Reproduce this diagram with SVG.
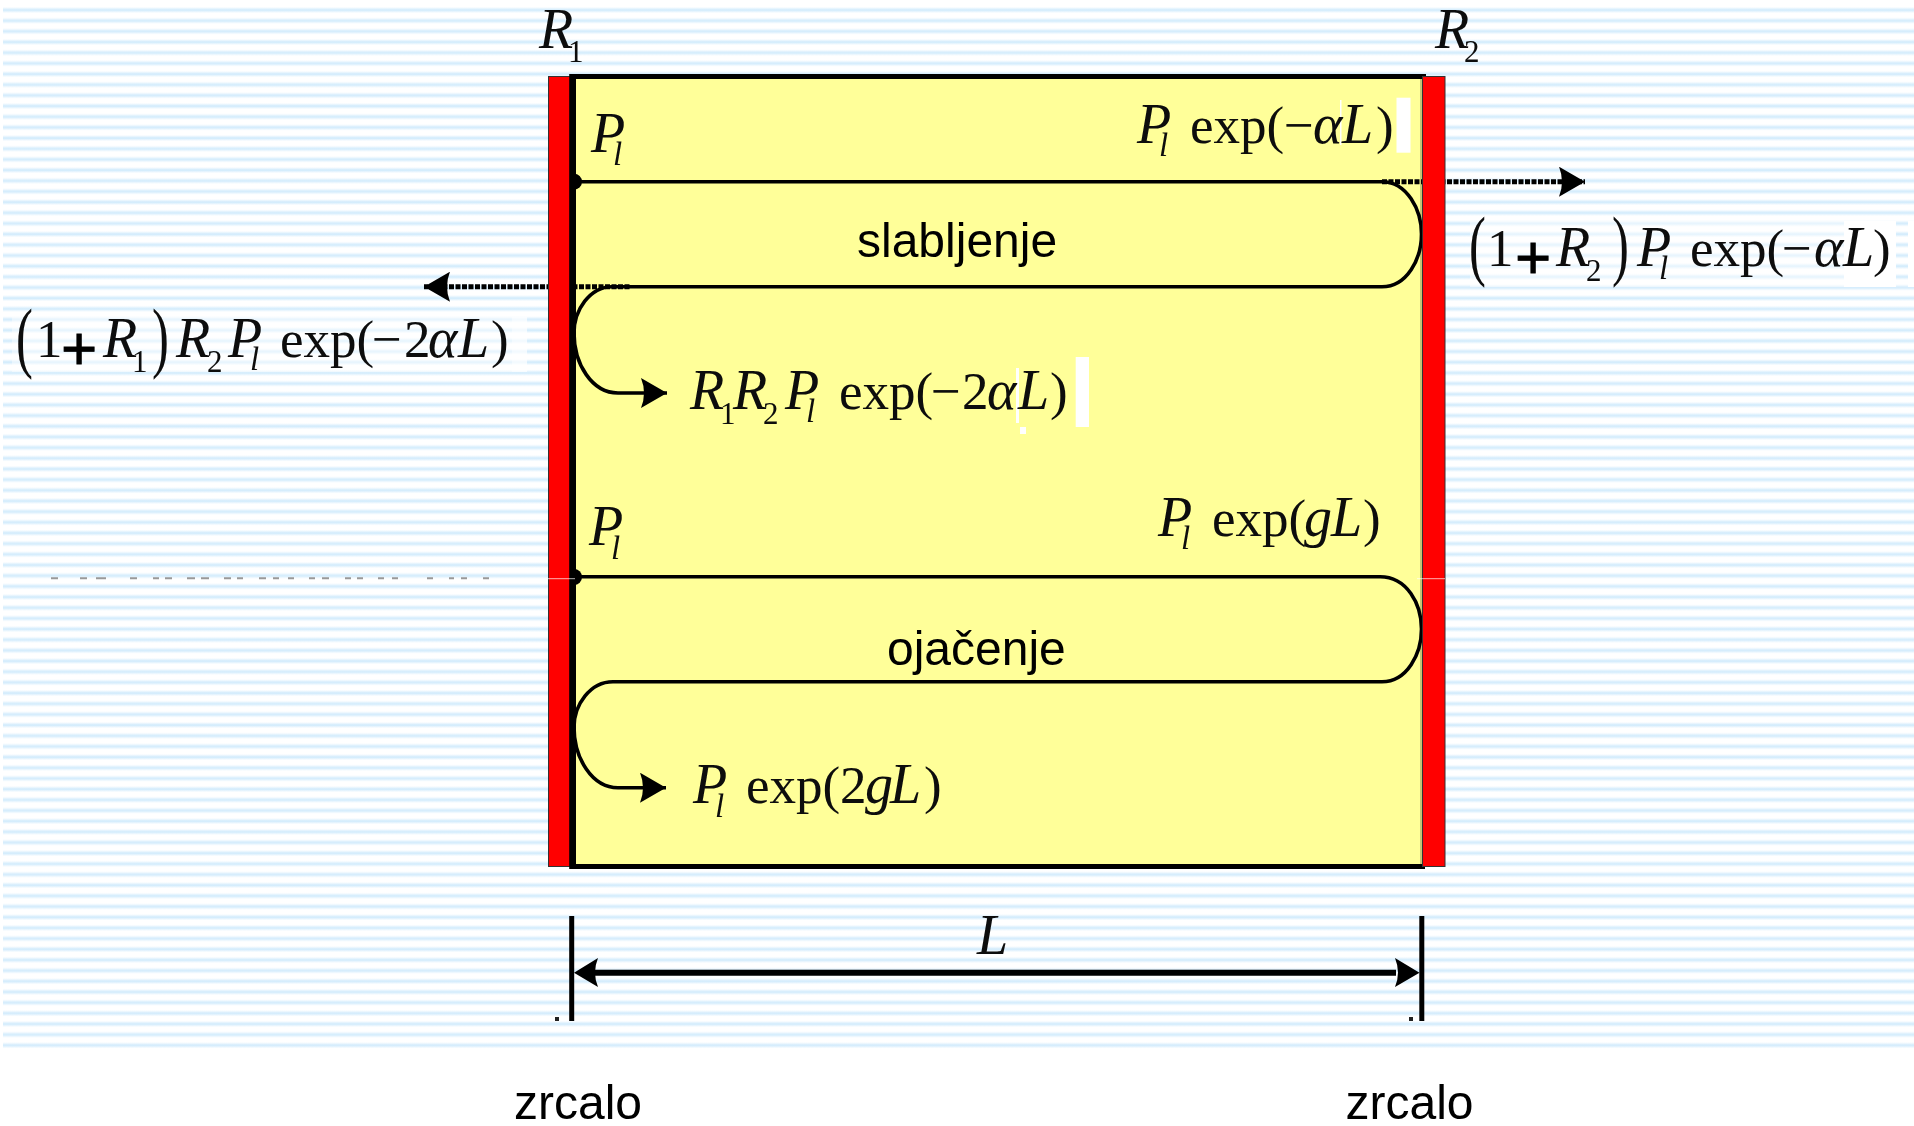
<svg xmlns="http://www.w3.org/2000/svg" width="1914" height="1126" viewBox="0 0 1914 1126">
<style>
text{fill:#0a0a0a}
.i{font:italic 56px "Liberation Serif",serif}
.r{font:53px "Liberation Serif",serif}
.s{font:31px "Liberation Serif",serif}
.l{font:italic 33px "Liberation Serif",serif}
.p{font:78px "Liberation Serif",serif}
.b{font:62px "Liberation Sans",sans-serif;fill:#000;stroke:#000;stroke-width:.8}
.t{font:48px "Liberation Sans",Arial,sans-serif;fill:#000}
.red{fill:#f00;stroke:#333;stroke-width:1}
.w{fill:none;stroke:#000;stroke-width:3.6}
.d{fill:none;stroke:#000;stroke-width:5;stroke-dasharray:5 1.5}
.dim{stroke:#000;stroke-width:5;fill:none}
.shaft{stroke:#000;stroke-width:6;fill:none}
</style>
<defs>
<linearGradient id="sg" x1="0" y1="0" x2="0" y2="1">
<stop offset="0" stop-color="#fff"/><stop offset=".5" stop-color="#cfeafc"/><stop offset="1" stop-color="#fff"/>
</linearGradient>
<pattern id="stripes" patternUnits="userSpaceOnUse" x="0" y="7" width="20" height="10.673">
<rect width="20" height="10.673" fill="#fff"/>
<rect y="0" width="20" height="6" fill="url(#sg)"/>
</pattern>
<filter id="soft" x="-5%" y="-5%" width="110%" height="110%"><feGaussianBlur stdDeviation="0.5"/></filter>
<marker id="ah" markerUnits="userSpaceOnUse" markerWidth="27" markerHeight="30" refX="26" refY="15" orient="auto">
<path d="M0 0L26 15L0 30Q6 15 0 0Z" fill="#000"/>
</marker>
</defs>
<rect width="1914" height="1126" fill="#fff"/>
<rect x="3" y="7" width="1911" height="1041.5" fill="url(#stripes)"/>
<g id="ghost-dashes" stroke="#999" stroke-width="2">
<path d="M51 578.3H58M80 578.3H87M96 578.3H106M130 578.3H137M153 578.3H159M165 578.3H172M187 578.3H195M201 578.3H209M224 578.3H231M237 578.3H243M259 578.3H266M273 578.3H279M288 578.3H294M309 578.3H315M322 578.3H329M345 578.3H351M357 578.3H363M378 578.3H384M392 578.3H398M427 578.3H433M449 578.3H454M461 578.3H467M483 578.3H489"/>
</g>
<g id="cavity">
<rect x="573.5" y="76" width="850" height="790.5" fill="#ffff99"/>
<path d="M571 76.5H1426M573.5 74V869M571 866.5H1425" fill="none" stroke="#000" stroke-width="5"/>
<path d="M1421 79V864" stroke="#8a8a50" stroke-width="1" fill="none"/>
</g>
<g id="patches">
<rect x="1396.5" y="97.7" width="14" height="55" fill="#fff"/>
<rect x="1075.7" y="357" width="13.3" height="70" fill="#fff"/>
<rect x="1016" y="368" width="3" height="55" fill="#fff"/>
<rect x="1020" y="427" width="6" height="7" fill="#fff"/>
<rect x="1340" y="100" width="1.5" height="45" fill="#fff"/>
<rect x="1470" y="221" width="374" height="66" fill="#fff" opacity=".45"/>
<rect x="1844" y="221" width="52" height="66" fill="#fff"/>
<rect x="1908" y="221" width="6" height="66" fill="#fff"/>
<rect x="12" y="317" width="500" height="55" fill="#fff" opacity=".45"/>
<rect x="512" y="317" width="15" height="55" fill="#fff" opacity=".7"/>
</g>
<g id="connectors">
<path class="d" d="M1382 181.7H1585" marker-end="url(#ah)"/>
<path class="d" d="M629.5 286.7H424" marker-end="url(#ah)"/>
<path class="w" d="M574 181.7H1382C1407 181.7 1421.5 210 1421.5 234C1421.5 259 1407 286.7 1382 286.7H612C590 286.7 574 310 574 333C574 364 592 393 618 393H667" marker-end="url(#ah)"/>
<path class="w" d="M574 576.7H1380C1407 576.7 1421.5 604 1421.5 629C1421.5 654 1407 681.7 1382 681.7H613C590 681.7 574 705 574 727C574 758 592 787.7 618 787.7H666" marker-end="url(#ah)"/>
<circle cx="574" cy="181.7" r="8" fill="#000"/>
<circle cx="574" cy="577" r="8" fill="#000"/>
<path class="shaft" d="M595 972.7H1396"/>
<path d="M574 972.7L598 958Q592 972.7 598 987Z M1419.5 972.7L1395 958Q1401 972.7 1395 987Z" fill="#000"/>
<path class="dim" d="M571.7 916V1021M1421.8 916V1021"/>
<rect x="555" y="1017" width="4" height="4" fill="#222"/>
<rect x="1409" y="1017" width="4" height="4" fill="#222"/>
</g>
<g id="mirror-left"><rect class="red" x="548.5" y="76.5" width="23" height="790"/><path d="M571.7 74V869" stroke="#000" stroke-width="5"/></g>
<g id="mirror-right"><rect class="red" x="1422.5" y="76.5" width="22.5" height="790"/></g>
<path id="seam" d="M548 578.7H575M1417 578.7H1445" stroke="#fff" stroke-opacity=".7" stroke-width="1"/>
<g id="labels-math" filter="url(#soft)">
<g id="label-r1"><text class="i" x="539" y="48">R</text><text class="s" x="568" y="62">1</text></g>
<g id="label-r2"><text class="i" x="1435" y="48">R</text><text class="s" x="1464" y="62">2</text></g>
<g id="label-pl-top"><text class="i" x="591" y="151.7">P</text><text class="l" x="613" y="165">l</text></g>
<g id="label-pl-bottom"><text class="i" x="589" y="545">P</text><text class="l" x="611" y="559">l</text></g>
<g id="label-top-right"><text class="i" x="1137" y="142.7">P</text><text class="l" x="1159" y="156">l</text><text class="r" x="1190" y="142.7">exp(</text><text class="r" x="1284" y="142.7">−</text><text class="i" x="1313" y="142.7">α</text><text class="i" x="1342" y="142.7">L</text><text class="r" x="1376" y="142.7">)</text></g>
<g id="label-r1r2"><text class="i" x="690" y="409">R</text><text class="s" x="720" y="424">1</text><text class="i" x="733" y="409">R</text><text class="s" x="763" y="424">2</text><text class="i" x="785" y="409">P</text><text class="l" x="806" y="422">l</text><text class="r" x="839" y="409">exp(</text><text class="r" x="931" y="409">−</text><text class="r" x="962" y="409">2</text><text class="i" x="987" y="409">α</text><text class="i" x="1018" y="409">L</text><text class="r" x="1050" y="409">)</text></g>
<g id="label-gain-right"><text class="i" x="1158" y="535.7">P</text><text class="l" x="1181" y="549">l</text><text class="r" x="1212" y="535.7">exp(</text><text class="i" x="1304" y="535.7">g</text><text class="i" x="1331" y="535.7">L</text><text class="r" x="1363" y="535.7">)</text></g>
<g id="label-gain-left"><text class="i" x="693" y="803">P</text><text class="l" x="715" y="817">l</text><text class="r" x="746" y="803">exp(</text><text class="r" x="840" y="803">2</text><text class="i" x="865" y="803">g</text><text class="i" x="890" y="803">L</text><text class="r" x="924" y="803">)</text></g>
<g id="label-left-formula"><text class="p" transform="translate(16 363) scale(.65 1)">(</text><text class="r" x="36" y="356.7">1</text><text class="i" x="103" y="356.7">R</text><text class="s" x="132" y="372">1</text><text class="p" transform="translate(152 363) scale(.65 1)">)</text><text class="i" x="176" y="356.7">R</text><text class="s" x="207" y="372">2</text><text class="i" x="228" y="356.7">P</text><text class="l" x="250" y="370">l</text><text class="r" x="280" y="356.7">exp(</text><text class="r" x="372" y="356.7">−</text><text class="r" x="404" y="356.7">2</text><text class="i" x="428" y="356.7">α</text><text class="i" x="458" y="356.7">L</text><text class="r" x="491" y="356.7">)</text></g>
<g id="label-right-formula"><text class="p" transform="translate(1469 271) scale(.65 1)">(</text><text class="r" x="1487" y="265.7">1</text><text class="i" x="1556" y="265.7">R</text><text class="s" x="1586" y="281">2</text><text class="p" transform="translate(1612 271) scale(.65 1)">)</text><text class="i" x="1637" y="265.7">P</text><text class="l" x="1659" y="279">l</text><text class="r" x="1690" y="265.7">exp(</text><text class="r" x="1782" y="265.7">−</text><text class="i" x="1814" y="265.7">α</text><text class="i" x="1843" y="265.7">L</text><text class="r" x="1873" y="265.7">)</text></g>
<text id="label-l" class="i" x="977" y="954">L</text>
</g>
<g id="labels-plus"><text class="b" x="61" y="369">+</text><text class="b" x="1515" y="278">+</text></g>
<text id="label-slabljenje" class="t" x="857" y="257">slabljenje</text>
<text id="label-ojacenje" class="t" x="887" y="665">ojačenje</text>
<text id="label-zrcalo-left" class="t" x="514" y="1119">zrcalo</text>
<text id="label-zrcalo-right" class="t" x="1345.5" y="1119">zrcalo</text>
</svg>
